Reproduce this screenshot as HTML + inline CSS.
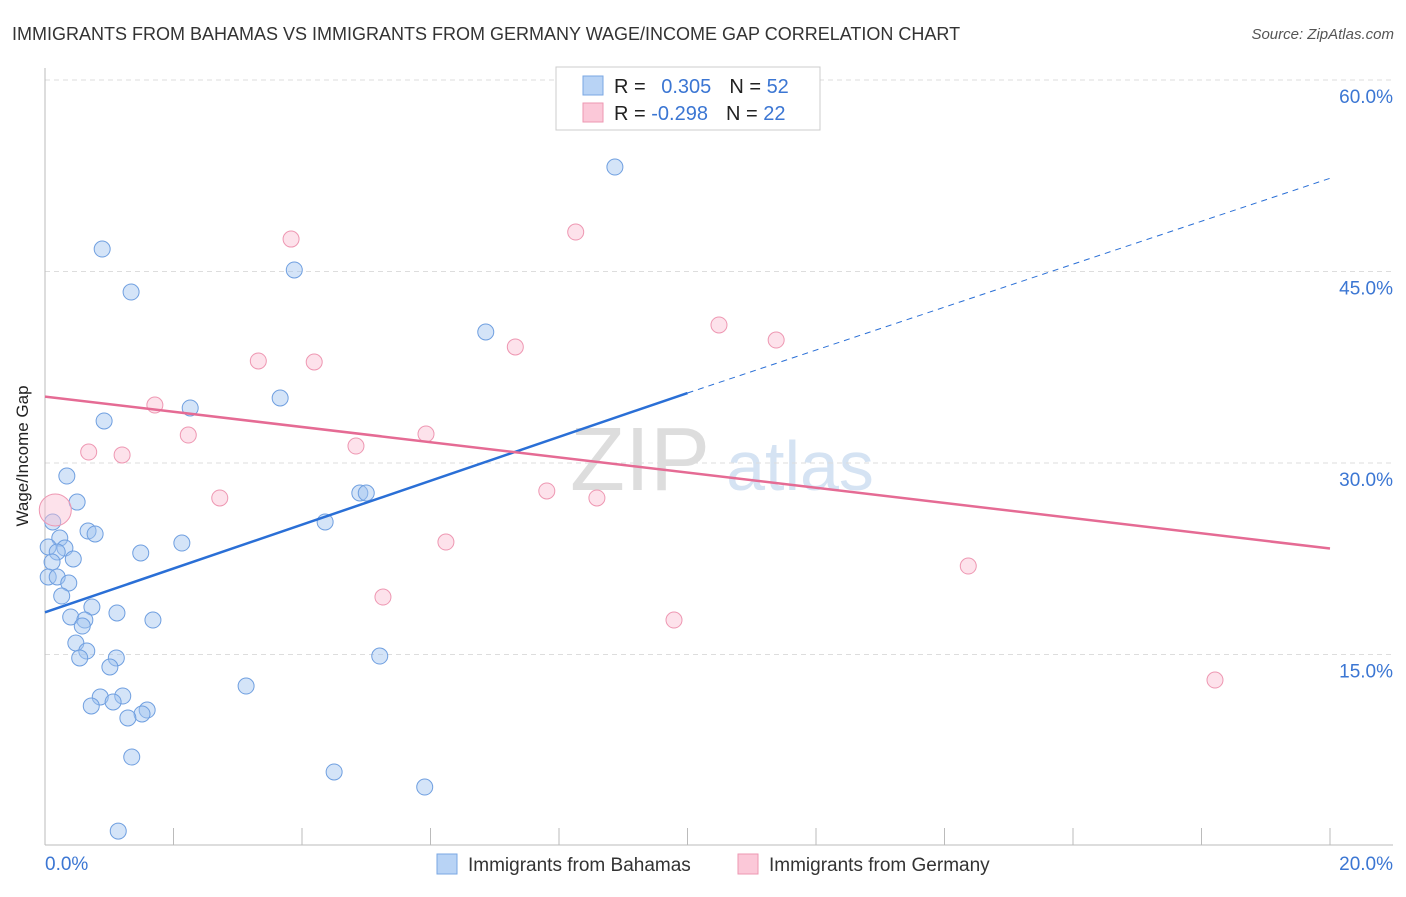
<!DOCTYPE html>
<html><head><meta charset="utf-8"><style>
body{margin:0;background:#fff;font-family:"Liberation Sans",sans-serif;}
svg text{font-family:"Liberation Sans",sans-serif;}
</style></head><body>
<svg id="chart" width="1406" height="892">
<text x="12" y="40" font-size="18" fill="#333">IMMIGRANTS FROM BAHAMAS VS IMMIGRANTS FROM GERMANY WAGE/INCOME GAP CORRELATION CHART</text>
<text x="1394" y="39" font-size="15" fill="#555" font-style="italic" text-anchor="end">Source: ZipAtlas.com</text>
<text x="640" y="490" font-size="90" fill="#ddd" font-family="Liberation Serif" text-anchor="middle">ZIP</text>
<text x="800" y="490" font-size="70" fill="#d5e3f3" text-anchor="middle">atlas</text>
<g id="grid"></g><g id="axes"></g><g id="marks"></g>
<text x="28" y="456" font-size="17" fill="#222" text-anchor="middle" transform="rotate(-90 28 456)">Wage/Income Gap</text>
<g>
<rect x="556" y="67" width="264" height="63" fill="#fff" stroke="#ccc"/>
<rect x="583" y="76" width="20" height="19" fill="#b8d3f5" stroke="#7aa7e3"/>
<rect x="583" y="103" width="20" height="19" fill="#fbc8d8" stroke="#ee97b2"/>
<text x="614" y="93" font-size="20" fill="#222">R = <tspan fill="#3b76d3" dx="10">0.305</tspan><tspan dx="18" fill="#222">N = </tspan><tspan fill="#3b76d3">52</tspan></text>
<text x="614" y="120" font-size="20" fill="#222">R = <tspan fill="#3b76d3">-0.298</tspan><tspan dx="18" fill="#222">N = </tspan><tspan fill="#3b76d3">22</tspan></text>
</g>
<g>
<rect x="437" y="854" width="20" height="20" fill="#b8d3f5" stroke="#7aa7e3"/>
<text x="468" y="871" font-size="19" fill="#333">Immigrants from Bahamas</text>
<rect x="738" y="854" width="20" height="20" fill="#fbc8d8" stroke="#ee97b2"/>
<text x="769" y="871" font-size="19" fill="#333">Immigrants from Germany</text>
</g>
</svg>
<script>
const yTicks=[15,30,45,60];
const xTickLabels=["0.0%","20.0%"];
const bahamasX=[8.87,0.89,3.88,1.34,6.86,3.66,2.26,0.92,0.34,0.50,4.90,5.00,0.12,4.36,0.67,0.78,0.23,0.05,0.31,0.19,1.49,2.13,0.44,0.11,0.05,0.19,0.37,0.26,0.73,1.12,0.40,0.62,1.68,0.58,0.48,0.65,0.54,1.11,5.21,1.01,3.13,0.86,1.21,1.06,0.72,1.59,1.51,1.29,1.35,4.50,5.91,1.14];
const bahamasY=[53.18,46.76,45.12,43.39,40.26,35.09,34.31,33.29,28.98,26.94,27.65,27.65,25.38,25.38,24.67,24.44,24.12,23.42,23.34,23.03,22.95,23.73,22.48,22.24,21.07,21.07,20.60,19.58,18.72,18.25,17.94,17.70,17.70,17.23,15.90,15.27,14.73,14.73,14.88,14.02,12.53,11.67,11.75,11.28,10.97,10.65,10.34,10.03,6.97,5.80,4.62,1.17];
const germanyX=[3.83,8.26,10.49,11.38,7.32,3.32,4.19,1.71,2.23,5.93,4.84,0.68,1.20,2.72,7.81,8.59,6.24,5.26,14.37,9.79,18.21,0.16];
const germanyY=[47.54,48.09,40.81,39.63,39.09,37.99,37.91,34.54,32.19,32.27,31.33,30.86,30.63,27.26,27.81,27.26,23.81,19.50,21.93,17.70,13.00,26.32];
const germanySize=[10,10,10,10,10,10,10,10,10,10,10,10,10,10,10,10,10,10,10,10,10,20];
const blueTrend=[18.3,35.48,52.3];
const pinkTrend=[35.2,23.3];
const NS="http://www.w3.org/2000/svg";
const X=v=>45+v*64.25, Y=v=>846-v*12.767;
function mk(p,t,a){const e=document.createElementNS(NS,t);for(const k in a)e.setAttribute(k,a[k]);p.appendChild(e);return e;}
const grid=document.getElementById('grid'),axes=document.getElementById('axes'),marks=document.getElementById('marks');
yTicks.forEach(t=>{
 const l=mk(grid,'line',{x1:45,x2:1393,y1:Y(t),y2:Y(t),stroke:'#ddd','stroke-dasharray':'5,4'});
 
 
 const tx=mk(grid,'text',{x:1393,y:Y(t)+23,'font-size':19,fill:'#3b76d3','text-anchor':'end'});tx.textContent=t.toFixed(1)+'%';
 
 
});
mk(axes,'line',{x1:45,x2:45,y1:68,y2:845,stroke:'#bbb'});
mk(axes,'line',{x1:45,x2:1393,y1:845,y2:845,stroke:'#bbb'});
for(let i=0;i<=10;i++){const t=mk(axes,'line',{x1:X(i*2),x2:X(i*2),y1:828,y2:845,stroke:'#bbb'});
 
 }
[[0,'start',45],[20,'end',1393]].forEach((d,i)=>{const t=mk(axes,'text',{x:d[2],y:870,'font-size':19,fill:'#3b76d3','text-anchor':d[1]});t.textContent=xTickLabels[i];
 
 });
bahamasX.forEach((x,i)=>{const c=mk(marks,'circle',{cx:X(x),cy:Y(bahamasY[i]),r:8,fill:'rgba(160,195,240,0.45)',stroke:'#6f9fe0','stroke-width':1});
 
 });
germanyX.forEach((x,i)=>{const c=mk(marks,'circle',{cx:X(x),cy:Y(germanyY[i]),r:germanySize[i]/1.25,fill:'rgba(250,190,210,0.45)',stroke:'#ee97b2','stroke-width':1});
 
 });
let l=mk(marks,'line',{x1:X(0),y1:Y(blueTrend[0]),x2:X(10),y2:Y(blueTrend[1]),stroke:'#2a6fd6','stroke-width':2.5});


l=mk(marks,'line',{x1:X(10),y1:Y(blueTrend[1]),x2:X(20),y2:Y(blueTrend[2]),stroke:'#2a6fd6','stroke-width':1,'stroke-dasharray':'6,5'});


l=mk(marks,'line',{x1:X(0),y1:Y(pinkTrend[0]),x2:X(20),y2:Y(pinkTrend[1]),stroke:'#e56b94','stroke-width':2.5});


</script>
</body></html>
